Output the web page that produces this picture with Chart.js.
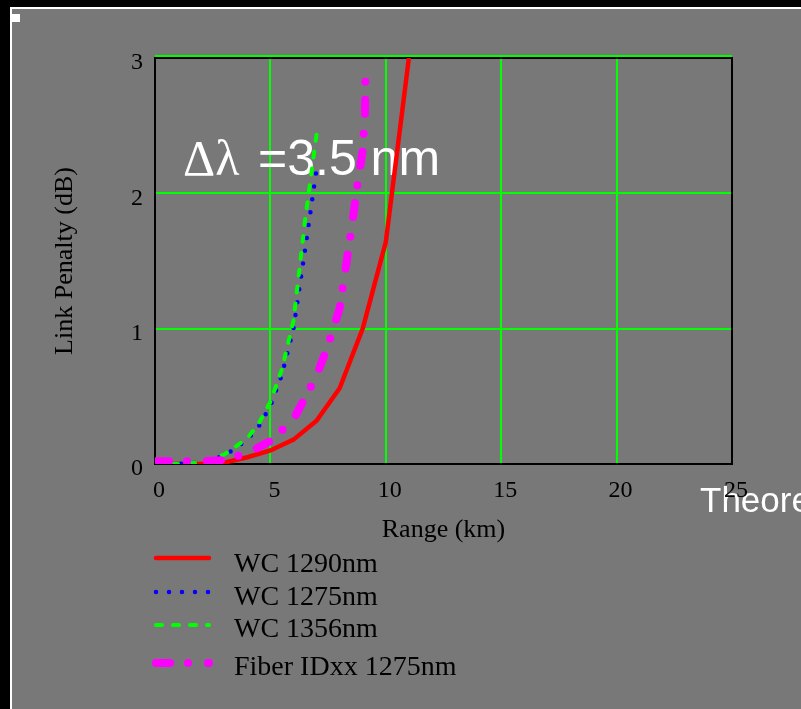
<!DOCTYPE html>
<html><head><meta charset="utf-8">
<script src="https://cdn.jsdelivr.net/npm/chart.js@4/dist/chart.umd.min.js"></script>
<style>html,body{margin:0;padding:0;background:#000;overflow:hidden}canvas{display:block}</style>
</head><body>
<canvas id="c" width="801" height="709"></canvas>
<script>
// ---- data ----
const xTickStep = 5, xMin = 0, xMax = 25;
const yTickStep = 1, yMin = 0, yMax = 3;
const xGridValues = [5, 10, 15, 20];
const yGridValues = [1, 2];
const seriesLabels = ['WC 1290nm', 'WC 1275nm', 'WC 1356nm', 'Fiber IDxx 1275nm'];
const redX = [0, 1, 2, 3, 4, 5, 6, 7, 8, 9, 10, 11];
const redY = [0, 0, 0, 0.01, 0.05, 0.1, 0.18, 0.32, 0.56, 1.0, 1.64, 3.0];
const blueX = [0, 1, 2, 3, 4, 4.5, 5, 5.5, 6, 6.5, 7];
const blueY = [0, 0, 0.01, 0.06, 0.18, 0.28, 0.43, 0.66, 1.0, 1.58, 2.18];
const greenX = [0, 1, 2, 3, 4, 4.5, 5, 5.5, 6, 6.5, 7.05];
const greenY = [0, 0, 0.01, 0.07, 0.19, 0.3, 0.46, 0.7, 1.06, 1.8, 2.5];
const magX = [0, 1, 2, 3, 4, 5, 6, 7, 7.5, 8, 8.5, 8.8, 9, 9.1, 9.12];
const magY = [0.02, 0.02, 0.02, 0.03, 0.08, 0.17, 0.33, 0.65, 0.88, 1.15, 1.72, 2.1, 2.32, 2.6, 2.95];
const annotationMain = ['Δλ', '=3.5 nm'];
const annotationSide = 'Theoretical';
const xTitle = 'Range (km)';
const yTitle = 'Link Penalty (dB)';

const pts = (xs, ys) => xs.map((x, i) => ({x, y: ys[i]}));

const decor = {
  id: 'decor',
  beforeDraw(chart) {
    const ctx = chart.ctx;
    ctx.save();
    ctx.fillStyle = '#000'; ctx.fillRect(0, 0, 801, 709);
    ctx.fillStyle = '#fff'; ctx.fillRect(10, 7, 791, 2); ctx.fillRect(10, 7, 2, 702);
    ctx.fillStyle = '#787878'; ctx.fillRect(12, 9, 789, 700);
    ctx.fillStyle = '#fff'; ctx.fillRect(12, 14, 8, 8);
    ctx.font = '35px "Liberation Sans"'; ctx.textBaseline = 'alphabetic'; ctx.textAlign = 'left';
    ctx.fillText(annotationSide, 700, 512);
    ctx.restore();
  },
  beforeDatasetsDraw(chart) {
    const ctx = chart.ctx, a = chart.chartArea;
    const xs = chart.scales.x, ys = chart.scales.y;
    ctx.save();
    ctx.fillStyle = '#00ff00';
    xGridValues.forEach(v => { const px = Math.round(xs.getPixelForValue(v)); ctx.fillRect(px - 1, a.top, 2, a.bottom - a.top); });
    yGridValues.forEach(v => { const py = Math.round(ys.getPixelForValue(v)); ctx.fillRect(a.left, py - 1, a.right - a.left, 2); });
    ctx.fillRect(a.left, a.top - 3, a.right - a.left, 2);
    ctx.fillStyle = '#000';
    ctx.fillRect(a.left - 1, a.top - 1, a.right - a.left + 2, 2);
    ctx.fillRect(a.left - 1, a.top - 1, 2, a.bottom - a.top + 2);
    ctx.fillRect(a.right - 1, a.top - 1, 2, a.bottom - a.top + 2);
    ctx.fillRect(a.left - 1, a.bottom - 1, a.right - a.left + 2, 2);
    ctx.fillStyle = '#fff'; ctx.textBaseline = 'alphabetic'; ctx.textAlign = 'left';
    ctx.font = '50px "Liberation Serif"';
    ctx.fillText(annotationMain[0], 183, 175);
    ctx.font = '50px "Liberation Sans"';
    ctx.fillText(annotationMain[1], 258, 175);
    ctx.restore();
  },
  afterDraw(chart) {
    const ctx = chart.ctx;
    const lineY = [558, 592, 625, 663];
    const textY = [572, 605, 637, 675];
    ctx.save();
    chart.data.datasets.forEach((ds, i) => {
      ctx.beginPath();
      ctx.strokeStyle = ds.borderColor;
      ctx.lineWidth = ds.borderWidth;
      ctx.lineCap = ds.borderCapStyle || 'butt';
      ctx.setLineDash(ds.borderDash || []);
      ctx.moveTo(156, lineY[i]);
      ctx.lineTo(209, lineY[i]);
      ctx.stroke();
      ctx.setLineDash([]);
      ctx.fillStyle = '#000';
      ctx.font = '28px "Liberation Serif"';
      ctx.textBaseline = 'alphabetic';
      ctx.fillText(ds.label, 234, textY[i]);
    });
    ctx.restore();
  }
};

const serif = '"Liberation Serif", "Times New Roman", serif';

new Chart(document.getElementById('c'), {
  type: 'line',
  data: {
    datasets: [
      {label: seriesLabels[0], data: pts(redX, redY), borderColor: '#ff0000', borderWidth: 4.5, borderCapStyle: 'round', order: 4},
      {label: seriesLabels[1], data: pts(blueX, blueY), borderColor: '#0000ff', borderWidth: 4.5, borderDash: [0, 13], borderCapStyle: 'round', order: 3},
      {label: seriesLabels[2], data: pts(greenX, greenY), borderColor: '#00ff00', borderWidth: 4, borderDash: [6, 11], borderCapStyle: 'round', order: 2},
      {label: seriesLabels[3], data: pts(magX, magY), borderColor: '#ff00ff', borderWidth: 8, borderDash: [14, 18, 0, 20], borderCapStyle: 'round', order: 1}
    ]
  },
  options: {
    responsive: false,
    animation: false,
    devicePixelRatio: 1,
    layout: {padding: {top: 58, right: 69, bottom: 0, left: 0}},
    elements: {point: {radius: 0}, line: {tension: 0, fill: false}},
    plugins: {legend: {display: false}, tooltip: {enabled: false}},
    scales: {
      x: {
        type: 'linear', min: xMin, max: xMax,
        afterFit(s) { s.height = 245; },
        ticks: {stepSize: xTickStep, color: '#000', font: {family: serif, size: 24}, padding: 12, labelOffset: 4, maxRotation: 0},
        grid: {display: false, drawTicks: false},
        border: {display: false},
        title: {display: true, text: xTitle, color: '#000', font: {family: serif, size: 26}, padding: {top: 0, bottom: 163}}
      },
      y: {
        type: 'linear', min: yMin, max: yMax,
        afterFit(s) { s.width = 155; },
        ticks: {stepSize: yTickStep, color: '#000', font: {family: serif, size: 24}, padding: 12, labelOffset: 5},
        grid: {display: false, drawTicks: false},
        border: {display: false},
        title: {display: true, text: yTitle, color: '#000', font: {family: serif, size: 26}, padding: {top: 50, bottom: 0}}
      }
    }
  },
  plugins: [decor]
});
</script>
</body></html>
